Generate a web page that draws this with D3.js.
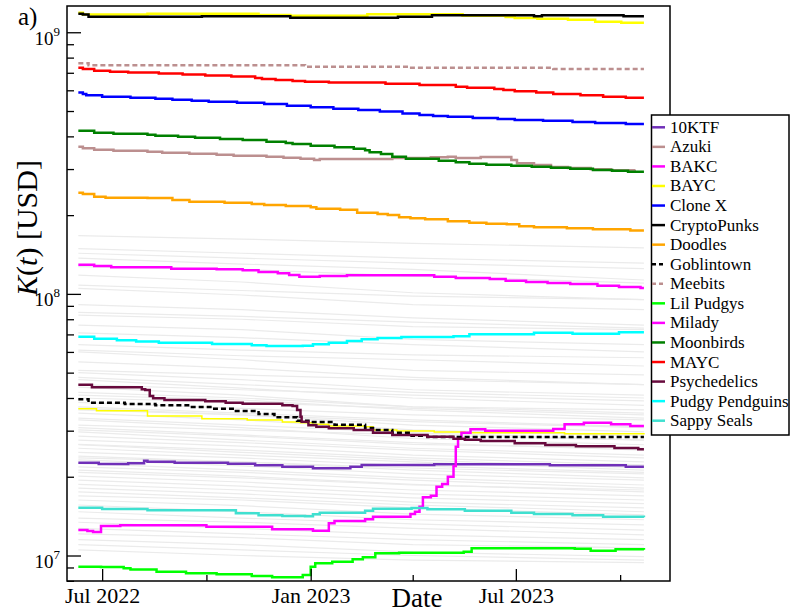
<!DOCTYPE html>
<html><head><meta charset="utf-8">
<script src="https://cdn.jsdelivr.net/npm/d3@7"></script>
<style>
body{margin:0;background:#fff}
svg{display:block}
</style>
</head><body>
<svg id="chart" width="792" height="612" font-family="Liberation Serif, Times New Roman, serif"></svg>
<script>
// ---------------- DATA (values in millions of USD) ----------------
const seriesNames = ["10KTF","Azuki","BAKC","BAYC","Clone X","CryptoPunks","Doodles","Goblintown","Meebits","Lil Pudgys","Milady","Moonbirds","MAYC","Psychedelics","Pudgy Pendguins","Sappy Seals"];
const seriesColors = ["#7030b8","#bc8f8f","#ff00ff","#ffff00","#0000ff","#000000","#ffa500","#000000","#bc8f8f","#00ff00","#ff00ff","#008000","#ff0000","#670a3d","#00ffff","#40e0d0"];
const seriesDashed = [false,false,false,false,false,false,false,true,true,false,false,false,false,false,false,false];

const tenKTF = [["2022-06-10",22.63],["2022-06-28",22.37],["2022-07-24",22.51],["2022-08-07",23.03],["2022-08-10",22.83],["2022-09-03",22.63],["2022-10-20",22.43],["2022-11-13",22.12],["2022-12-07",21.84],["2023-01-03",21.54],["2023-02-05",21.84],["2023-02-15",22.18],["2023-04-20",22.32],["2023-07-31",22.12],["2023-10-06",21.84],["2023-10-22",21.84]];
const azuki = [["2022-06-10",365.4],["2022-06-14",360.3],["2022-06-24",355.8],["2022-07-11",352.7],["2022-08-10",349.6],["2022-08-23",346.6],["2022-09-16",343.5],["2022-10-10",340.5],["2022-10-25",337.5],["2022-11-23",334.6],["2022-12-08",331.6],["2022-12-23",328.8],["2023-01-04",325.1],["2023-01-09",327.9],["2023-03-14",330.8],["2023-04-17",332.9],["2023-05-02",334.6],["2023-05-09",330.8],["2023-05-31",333.7],["2023-06-27",325.1],["2023-07-02",315.7],["2023-07-17",311],["2023-08-01",305.5],["2023-08-16",302.9],["2023-09-05",299.4],["2023-09-23",296.8],["2023-10-13",295.8],["2023-10-15",295.8]];
const bakc = [["2022-06-10",12.52],["2022-06-18",12.41],["2022-06-23",12.30],["2022-06-30",12.97],["2022-07-17",13.05],["2022-10-01",12.89],["2022-11-28",12.59],["2023-01-03",12.44],["2023-01-17",13.28],["2023-01-22",13.55],["2023-02-18",13.75],["2023-02-25",14.07],["2023-03-30",14.41],["2023-04-03",14.71],["2023-04-07",15.37],["2023-04-10",16.69],["2023-04-17",16.93],["2023-04-22",18.32],["2023-04-27",18.76],["2023-05-02",20.01],["2023-05-07",21.99],["2023-05-09",26.06],["2023-05-11",28.31],["2023-05-14",29.47],["2023-05-22",30.37],["2023-06-04",29.99],["2023-08-03",30.45],["2023-08-13",31.73],["2023-08-30",32.18],["2023-09-23",31.73],["2023-10-10",31.26],["2023-10-22",31.26]];
const bayc = [["2022-06-10",1188],["2022-06-14",1168],["2022-08-10",1178],["2022-11-16",1164],["2022-12-14",1157],["2023-02-20",1172],["2023-05-15",1157],["2023-06-22",1144],["2023-06-30",1134],["2023-07-20",1127],["2023-08-16",1117],["2023-09-09",1098],["2023-10-02",1088],["2023-10-22",1088]];
const cloneX = [["2022-06-10",588],["2022-06-14",581],["2022-06-17",574],["2022-07-01",567],["2022-07-26",562],["2022-08-17",557.5],["2022-09-01",552.6],["2022-09-18",547.7],["2022-10-03",542.9],["2022-10-28",538.2],["2022-11-21",532],["2022-12-11",524],["2023-01-01",517],["2023-01-21",510.5],["2023-02-12",505],["2023-03-03",497.5],["2023-03-23",488.8],["2023-04-07",483.2],["2023-04-19",478.6],["2023-05-02",475.8],["2023-05-24",470.4],["2023-06-15",466.3],["2023-06-30",462.2],["2023-07-25",459.4],["2023-08-20",454.1],["2023-09-09",450.2],["2023-10-06",446.2],["2023-10-22",446.2]];
const cryptoPunks = [["2022-06-10",1178],["2022-06-14",1168],["2022-06-19",1147],["2022-09-27",1151],["2022-12-14",1137],["2023-03-19",1147],["2023-04-18",1161],["2023-07-17",1151],["2023-07-24",1161],["2023-10-04",1151],["2023-10-22",1151]];
const doodles = [["2022-06-10",243.8],["2022-06-14",241],["2022-06-24",235.3],["2022-07-04",233.3],["2022-08-10",232.7],["2022-09-01",228.6],["2022-09-16",225.2],["2022-10-17",223.2],["2022-11-10",220.7],["2022-11-21",218.7],["2022-12-10",216.8],["2023-01-01",214.3],["2023-01-06",211.7],["2023-01-27",209.9],["2023-02-11",204.4],["2023-03-01",202.1],["2023-03-10",200.3],["2023-03-20",196.3],["2023-03-30",194.5],["2023-04-12",192.9],["2023-05-02",189.5],["2023-05-21",187.2],["2023-06-05",185.5],["2023-06-23",184.6],["2023-07-04",181.3],["2023-07-17",179.8],["2023-08-15",178.2],["2023-09-07",176.6],["2023-10-10",174.5],["2023-10-22",174.5]];
const goblintown = [["2022-06-10",39.54],["2022-06-19",38.38],["2022-07-21",37.94],["2022-08-17",37.52],["2022-09-16",36.96],["2022-10-06",36.41],["2022-10-27",35.68],["2022-11-16",34.74],["2022-11-30",33.76],["2022-12-20",32.76],["2022-12-30",32.39],["2023-01-22",31.62],["2023-02-18",30.72],["2023-02-25",30.18],["2023-03-14",29.47],["2023-03-31",28.71],["2023-04-14",28.38],["2023-10-22",28.38]];
const meebits = [["2022-06-10",761],["2022-06-19",748],["2022-12-27",739],["2023-03-28",732],["2023-08-03",724],["2023-10-22",724]];
const lilPudgys = [["2022-06-10",9.06],["2022-06-30",9.04],["2022-07-20",8.93],["2022-07-26",8.85],["2022-08-18",8.67],["2022-09-13",8.55],["2022-10-10",8.48],["2022-11-10",8.35],["2022-11-28",8.25],["2022-12-25",8.42],["2023-01-01",9.06],["2023-01-05",9.34],["2023-01-20",9.47],["2023-02-07",9.67],["2023-02-16",9.84],["2023-02-27",10.20],["2023-03-20",10.25],["2023-05-16",10.34],["2023-05-23",10.66],["2023-08-22",10.62],["2023-09-05",10.43],["2023-09-27",10.56],["2023-10-22",10.53]];
const milady = [["2022-06-10",129.3],["2022-06-24",127.8],["2022-07-09",126.4],["2022-08-31",124.8],["2022-10-10",124.2],["2022-11-02",123.1],["2022-11-16",121.3],["2022-12-03",119.9],["2022-12-13",118.1],["2022-12-22",116.4],["2023-01-09",117.1],["2023-02-02",117.8],["2023-04-20",116.4],["2023-05-09",115],["2023-06-08",114],["2023-06-22",112.3],["2023-07-10",111],["2023-07-29",110.1],["2023-08-18",109.1],["2023-09-11",107.5],["2023-09-30",106.3],["2023-10-19",105.3],["2023-10-22",105.3]];
const moonbirds = [["2022-06-10",420.7],["2022-06-24",413.3],["2022-07-11",409.7],["2022-08-10",406.1],["2022-08-17",402.6],["2022-09-06",399.1],["2022-09-21",395.6],["2022-10-13",391.1],["2022-11-02",387.7],["2022-11-23",381.9],["2022-12-10",377.6],["2022-12-16",374.1],["2023-01-01",368.6],["2023-01-22",363.5],["2023-02-08",358.9],["2023-02-18",354],["2023-02-22",347.8],["2023-03-04",342.6],["2023-03-14",334.6],["2023-03-26",328.8],["2023-04-24",323.1],["2023-05-09",318.5],["2023-05-21",314.6],["2023-06-05",311.9],["2023-06-27",309.1],["2023-07-15",306.4],["2023-08-01",303.8],["2023-08-18",301.1],["2023-09-07",297.6],["2023-09-24",295.8],["2023-10-08",293.2],["2023-10-22",293.2]];
const mayc = [["2022-06-10",732],["2022-06-14",724],["2022-06-24",713],["2022-07-08",707],["2022-07-24",701],["2022-08-20",695],["2022-09-10",689],["2022-09-30",683],["2022-10-23",677],["2022-11-13",669],["2022-11-19",663],["2022-12-01",657],["2022-12-16",651],["2022-12-27",647],["2023-01-17",642],["2023-03-08",636],["2023-04-07",629],["2023-05-09",619],["2023-05-19",613],["2023-06-12",607],["2023-06-20",602],["2023-06-30",595],["2023-07-19",588],["2023-08-03",581],["2023-08-27",574],["2023-09-16",567],["2023-10-06",562],["2023-10-22",562]];
const psychedelics = [["2022-06-10",44.97],["2022-06-22",43.95],["2022-08-05",43.18],["2022-08-08",42.92],["2022-08-12",40.71],["2022-08-15",39.89],["2022-08-25",39.3],["2022-09-30",38.86],["2022-10-18",38.38],["2022-11-02",38.05],["2022-12-07",37.52],["2022-12-16",37.29],["2022-12-20",36.0],["2022-12-23",33.93],["2022-12-24",32.47],["2022-12-30",31.45],["2023-01-06",31.06],["2023-01-17",30.63],["2023-02-08",30.18],["2023-02-25",29.47],["2023-03-14",28.88],["2023-04-14",28.45],["2023-05-07",27.96],["2023-05-17",27.71],["2023-05-31",27.4],["2023-06-30",26.85],["2023-07-27",26.45],["2023-08-23",26.15],["2023-09-26",25.76],["2023-10-17",25.47],["2023-10-22",25.47]];
const pudgyPenguins = [["2022-06-10",68.6],["2022-06-24",67.4],["2022-07-14",66.5],["2022-07-31",65.7],["2022-08-20",65.1],["2022-10-06",64.4],["2022-11-10",63.6],["2022-11-23",63.2],["2022-12-25",63.4],["2023-01-03",64.2],["2023-01-17",65.1],["2023-02-02",66.1],["2023-02-15",67.1],["2023-03-01",67.8],["2023-03-22",68.4],["2023-05-07",68.9],["2023-05-21",70.1],["2023-07-17",71.1],["2023-08-20",70.4],["2023-09-30",71.3],["2023-10-22",71.3]];
const sappySeals = [["2022-06-10",15.23],["2022-07-01",15.06],["2022-08-10",14.89],["2022-10-27",14.50],["2022-11-16",14.25],["2022-12-07",14.16],["2022-12-27",14.12],["2023-01-03",14.37],["2023-01-09",14.57],["2023-02-18",14.84],["2023-02-25",15.10],["2023-03-31",15.19],["2023-04-14",15.02],["2023-05-17",14.84],["2023-06-27",14.57],["2023-07-17",14.41],["2023-08-20",14.25],["2023-09-16",14.07],["2023-10-22",14.00]];
// unlabelled thin yellow collection
const extraYellow = [["2022-06-10",36.41],["2022-06-26",35.78],["2022-08-10",34.15],["2022-09-27",33.34],["2022-11-06",32.96],["2022-12-07",32.39],["2022-12-23",32.18],["2023-01-03",31.73],["2023-01-17",31.26],["2023-02-18",31.06],["2023-02-25",30.18],["2023-03-18",29.92],["2023-04-20",29.66],["2023-05-17",29.47],["2023-08-13",29.19],["2023-10-22",29.03]];

const seriesData = [tenKTF,azuki,bakc,bayc,cloneX,cryptoPunks,doodles,goblintown,meebits,lilPudgys,milady,moonbirds,mayc,psychedelics,pudgyPenguins,sappySeals];

// other (grey) collections: values at these dates
const otherDates = ["2022-06-10","2022-11-01","2023-04-01","2023-10-22"];
const otherValues = [
[167,162,156,150],[149,143,137,131],[143,137,131,125],[137,130,124,113],[127,124,117,110],
[108,103,98,95],[105,99,91,87],[118,111,101,95],[91,87,81,76],[85,82,78,74],[83,80,75,73],
[76,73,67,64],[71,68,64,60],[64,61,58.5,57],[61,58,56,53],[60,56,51,49],[55,52,48,45],
[51,49,47,45],[50,47,43,41],[48,45,42,40],[47,43.6,40,37.5],[45,43,41,39],[44,41,37,35],
[42,40,37,36],[41,39.3,36,33.5],[40,38.5,36.5,34.5],[38.5,36.5,34.5,33],[37,35,33,31],
[36.5,34.5,31.5,29.7],[36,34.5,32.5,30.8],[35,33,30.2,28.6],[33.5,31.5,29.5,27.6],
[33,30.8,28,26.5],[31.5,30.2,28.9,27.6],[30.8,28.9,27,25.3],[30.2,28.6,26.6,25.7],
[29.7,27.6,25.7,24.2],[28.6,27,25.3,23.6],[27.6,26.2,24.2,22.8],[26.6,25.3,23.6,22.2],
[26.5,24.8,23.2,21.6],[25.7,24.2,22.8,21.2],[24.8,23.6,22,20.8],[24,22.8,21.2,19.8],
[23.6,22.8,21.6,20.5],[23.2,22,20.5,19.4],[22.5,21.2,19.8,18.6],[21.8,20.8,19.4,18.1],
[21.2,20.1,18.7,17.5],[20.8,19.8,18.6,17.8],[20.1,19.1,17.8,16.9],[19.4,18.4,17.2,16.3],
[18.7,17.8,16.6,15.8],[18.1,17.2,16,15.2],[17.5,16.6,15.6,14.7],[16.9,16.3,15.2,14.3],
[16.3,15.5,14.4,13.7],[15.6,14.7,13.7,13.1],[14.7,13.9,13.2,12.5],[13.9,13.4,12.7,12.0],
[13.4,12.7,12.0,11.5],[12.7,12.1,11.5,11.0],[12.1,11.7,11.0,10.7],[11.5,11.0,10.3,9.9],
[11.0,10.5,10.0,9.6],[10.5,10.0,9.6,9.4]
];

const xMajorTicks = ["2022-07-01","2023-01-01","2023-07-01"];
const xMinorTicks = ["2022-10-01","2023-04-01","2023-10-01"];
const yMajorTicks = [10,100,1000];
const yMinorTicks = [8,9,20,30,40,50,60,70,80,90,200,300,400,500,600,700,800,900];

// ---------------- CHART ----------------
const FONT = "Liberation Serif, Times New Roman, serif";
const svg = d3.select("#chart");
const L=67, R=670, T=6, B=581;
const parse = d3.utcParse("%Y-%m-%d");
const x = d3.scaleUtc().domain([parse("2022-05-31"), parse("2023-11-14")]).range([L,R]);
const y = d3.scaleLog().domain([7.99,1260]).range([B,T]);

svg.append("defs").append("clipPath").attr("id","clip")
  .append("rect").attr("x",L).attr("y",T).attr("width",R-L).attr("height",B-T);

const plot = svg.append("g").attr("clip-path","url(#clip)");

const greyLine = d3.line().x(d=>x(d[0])).y(d=>y(d[1])).curve(d3.curveLinear);
otherValues.forEach(vals=>{
  const pts = vals.map((v,i)=>[parse(otherDates[i]), v]);
  plot.append("path").attr("d",greyLine(pts)).attr("fill","none")
    .attr("stroke","#ebebeb").attr("stroke-width",1.2);
});

const stepLine = d3.line().x(d=>x(parse(d[0]))).y(d=>y(d[1])).curve(d3.curveStepAfter);

// thin yellow unlabelled line
plot.append("path").attr("d",stepLine(extraYellow)).attr("fill","none")
  .attr("stroke","#ffff00").attr("stroke-width",1.5);

seriesData.forEach((data,i)=>{
  plot.append("path").attr("d",stepLine(data)).attr("fill","none")
    .attr("stroke",seriesColors[i]).attr("stroke-width",2.5)
    .attr("stroke-dasharray",seriesDashed[i]?"5,3":null);
});

// frame
svg.append("rect").attr("x",L).attr("y",T).attr("width",R-L).attr("height",B-T)
  .attr("fill","none").attr("stroke","#000").attr("stroke-width",1.5);

// x axis
const xMaj = svg.append("g").attr("transform",`translate(0,${B})`)
  .call(d3.axisBottom(x).tickValues(xMajorTicks.map(parse)).tickSize(-12).tickPadding(6)
    .tickFormat(d3.utcFormat("%b %Y")));
xMaj.attr("font-family",FONT);
xMaj.select(".domain").remove();
xMaj.selectAll("line").attr("stroke","#000").attr("stroke-width",1.3);
xMaj.selectAll("text").attr("font-size",22).attr("font-family",FONT).attr("fill","#000");
const xMin = svg.append("g").attr("transform",`translate(0,${B})`)
  .call(d3.axisBottom(x).tickValues(xMinorTicks.map(parse)).tickSize(-6).tickFormat(""));
xMin.select(".domain").remove();
xMin.selectAll("line").attr("stroke","#000").attr("stroke-width",1.3);

// y axis
const yMaj = svg.append("g").attr("transform",`translate(${L},0)`)
  .call(d3.axisLeft(y).tickValues(yMajorTicks).tickSize(-14).tickPadding(7).tickFormat(""));
yMaj.attr("font-family",FONT);
yMaj.select(".domain").remove();
yMaj.selectAll("line").attr("stroke","#000").attr("stroke-width",1.3);
yMaj.selectAll(".tick text").attr("dy",null).attr("y",12).attr("font-size",19)
  .attr("font-family",FONT).attr("fill","#000")
  .each(function(d){
    const t=d3.select(this);
    t.append("tspan").text("10");
    t.append("tspan").attr("dy",-9).attr("font-size",13).text(Math.round(Math.log10(d))+6);
  });
const yMin = svg.append("g").attr("transform",`translate(${L},0)`)
  .call(d3.axisLeft(y).tickValues(yMinorTicks).tickSize(-7).tickFormat(""));
yMin.select(".domain").remove();
yMin.selectAll("line").attr("stroke","#000").attr("stroke-width",1.3);

// labels
const yl = svg.append("text").attr("transform","translate(37,228) rotate(-90)")
  .attr("text-anchor","middle").attr("font-size",30).attr("font-family",FONT);
yl.append("tspan").attr("font-style","italic").text("K");
yl.append("tspan").text("(");
yl.append("tspan").attr("font-style","italic").text("t");
yl.append("tspan").text(") [USD]");

svg.append("text").attr("x",417).attr("y",607).attr("text-anchor","middle")
  .attr("font-size",27).attr("font-family",FONT).text("Date");
svg.append("text").attr("x",18).attr("y",25).attr("font-size",25).attr("font-family",FONT).text("a)");

// legend
const lg = svg.append("g").attr("font-family",FONT);
lg.append("rect").attr("x",651.5).attr("y",115).attr("width",137.5).attr("height",320)
  .attr("fill","#fff").attr("stroke","#000").attr("stroke-width",1.5);
seriesNames.forEach((name,i)=>{
  const yy = 127.3 + i*19.56;
  lg.append("line").attr("x1",652).attr("x2",665).attr("y1",yy).attr("y2",yy)
    .attr("stroke",seriesColors[i]).attr("stroke-width",2.5)
    .attr("stroke-dasharray",seriesDashed[i]?"4,3":null);
  lg.append("text").attr("x",670).attr("y",yy+5.5).attr("font-size",17)
    .attr("font-family",FONT).text(name);
});
</script>
</body></html>
